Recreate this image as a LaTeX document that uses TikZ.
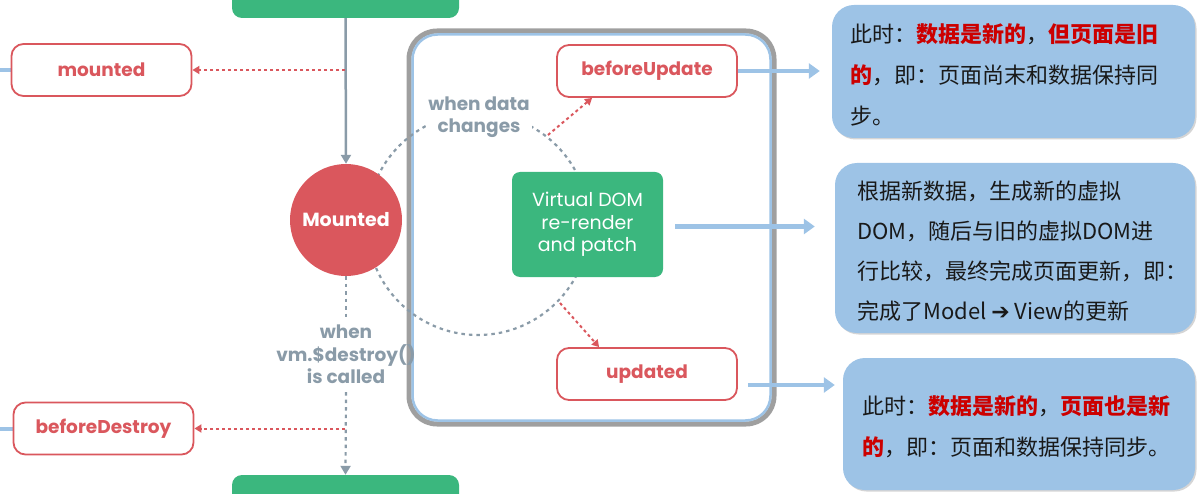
\documentclass[tikz,border=0pt]{standalone}
\usepackage{fontspec}
\setmainfont{Poppins}
\newfontfamily\cjk{Noto Sans CJK SC}
\newfontfamily\djv{DejaVu Sans}
\usetikzlibrary{arrows.meta,calc,shadows}
\definecolor{vgreen}{RGB}{59,183,126}
\definecolor{vred}{RGB}{218,87,93}
\definecolor{vgray}{RGB}{138,155,168}
\definecolor{lblue}{RGB}{157,195,230}
\definecolor{boxred}{RGB}{204,0,0}
\definecolor{txt}{RGB}{25,25,25}
\newcommand\hl[1]{{\bfseries\color{boxred}#1}}
\begin{document}
\begin{tikzpicture}[x=1pt,y=-1pt,
  hook/.style={draw=vred, line width=1.8pt, fill=white, rounded corners=12pt,
    minimum width=180pt, minimum height=52pt,
    font=\bfseries\fontsize{18.5}{20}\selectfont, text=vred},
  greenbox/.style={fill=vgreen, rounded corners=10pt, minimum width=227pt, minimum height=30pt},
  notebox/.style={fill=lblue, rounded corners=22pt,
    drop shadow={shadow xshift=1.5pt, shadow yshift=-1.5pt, fill=gray!55, opacity=0.6}},
  notetext/.style={anchor=base west, inner sep=0pt, font=\cjk\fontsize{22}{26}\selectfont, text=txt},
  bluearrow/.style={draw=lblue, line width=4.5pt, -{Triangle[length=11pt,width=15pt]}},
  hookarrow/.style={draw=vred, line width=2pt, dash pattern=on 3pt off 3pt,
    -{Triangle[length=7pt,width=8pt]}},
  dotgray/.style={draw=vgray, line width=2.2pt, dash pattern=on 3.5pt off 4pt},
  graylabel/.style={text=vgray, align=center, font=\bfseries\fontsize{18.5}{22.5}\selectfont}
]
\useasboundingbox (0,0) rectangle (1201,494);
\clip (0,0) rectangle (1201,494);

% right notes
\node[notebox, minimum width=363pt, minimum height=133pt] (b1) at (1013.5,71.5) {};
\node[notebox, minimum width=360pt, minimum height=170pt] (b2) at (1015,248) {};
\node[notebox, minimum width=352pt, minimum height=132pt] (b3) at (1019,424) {};

\node[notetext] (t11) at (850,43) {此时：\hl{数据是新的}，\hl{但页面是旧}};
\node[notetext] (t12) at (850,84) {\hl{的}，即：页面尚末和数据保持同};
\node[notetext] (t13) at (850,125) {步。};

\node[notetext] (t21) at (857,200) {根据新数据，生成新的虚拟};
\node[notetext] (t22) at (857,240) {DOM，随后与旧的虚拟DOM进};
\node[notetext] (t23) at (857,279) {行比较，最终完成页面更新，即：};
\node[notetext] (t24) at (857,319) {完成了Model {\djv\bfseries ➔} View的更新};

\node[notetext] (t31) at (862,414) {此时：\hl{数据是新的}，\hl{页面也是新}};
\node[notetext] (t32) at (862,455) {\hl{的}，即：页面和数据保持同步。};

% green ends
\node[greenbox] (top) at (345.5,3) {};
\node[greenbox] (bot) at (345.5,490) {};

% big update box
\draw[gray!75, line width=5pt, rounded corners=28pt] (409,31) rectangle (774,424);
\draw[lblue, line width=2.5pt, rounded corners=25pt] (412.5,34.5) rectangle (770.5,420.5);

% dotted update cycle
\draw[dotgray] (478,224) circle[radius=111];
\node[graylabel, fill=white, inner sep=2pt] (wdc) at (479,117) {when data\\changes};

% virtual dom
\node[fill=vgreen, rounded corners=8pt, minimum width=151pt, minimum height=105pt,
  text=white, align=center, font=\fontsize{19}{22.5}\selectfont] (vd) at (587.5,224.5)
  {Virtual DOM\\re-render\\and patch};

% Mounted circle
\node[circle, fill=vred, minimum size=112pt, inner sep=0pt, text=white,
  font=\bfseries\fontsize{19}{20}\selectfont] (M) at (346,220) {Mounted};

% hooks
\node[hook] (bu) at (647,71) {beforeUpdate};
\node[hook] (up) at (647,374) {updated};

\coordinate (e1) at (0,70);
\coordinate (e2) at (0,428.5);
\draw[lblue, line width=4pt] (e1) -- (12,70);
\draw[lblue, line width=4pt] (e2) -- (14,428.5);
\node[hook] (mtd) at (101.5,70) {mounted};
\node[hook] (bd) at (103.5,428.5) {beforeDestroy};

% main flow
\draw[vgray, line width=2.5pt, -{Triangle[length=9pt,width=10pt]}] (top.south) -- (M.north);
\node[graylabel, inner ysep=8pt] (wd) at (346,354.5) {when\\vm.\$destroy()\\is called};
\draw[dotgray] (M.south) -- (wd.north);
\draw[dotgray, -{Triangle[length=9pt,width=10pt]}] (wd.south) -- (bot.north);

\coordinate (j1) at (345,70);
\coordinate (j2) at (345,428.5);
\draw[hookarrow] (j1) -- (mtd.east);
\draw[hookarrow] (j2) -- (bd.east);

\coordinate (a1) at (548,135);
\coordinate (a2) at (560,303);
\draw[hookarrow] (a1) -- ($(bu.south west)+(36,0)$);
\draw[hookarrow] (a2) -- ($(up.north west)+(43,0)$);

% blue arrows to notes
\draw[bluearrow, shorten >=12pt] (bu.east) -- (bu.east -| b1.west);
\draw[bluearrow, shorten <=12pt, shorten >=20pt] ([yshift=-2pt]vd.east) -- ([yshift=-2pt]vd.east -| b2.west);
\draw[bluearrow, shorten <=10pt, shorten >=8pt] ([yshift=-11pt]up.east) -- ([yshift=-11pt]up.east -| b3.west);
\end{tikzpicture}
\end{document}
